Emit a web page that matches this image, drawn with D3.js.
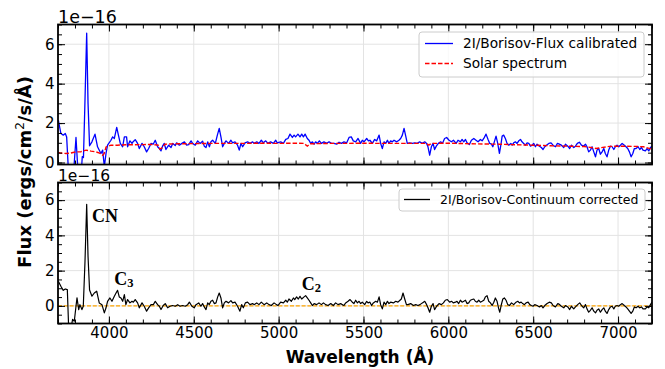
<!DOCTYPE html>
<html>
<head>
<meta charset="utf-8">
<script src="https://cdnjs.cloudflare.com/ajax/libs/d3/7.8.5/d3.min.js"></script>
<style>
  body { margin: 0; background: #fff; }
  text { font-family: "DejaVu Sans", sans-serif; }
</style>
</head>
<body>
<div id="chart"></div>
<script>
// flux calibrated spectrum (units of 1e-16)
var fluxWave = [3702,3717,3731,3743,3751,3762,3792,3806,3818,3838,3843,3850,3858,3869,3877,3886,3900,3918,3933,3953,3963,3973,3983,3992,
  4012,4022,4032,4046,4056,4067,4081,4091,4104,4110,4124,4136,4144,4155,4169,4179,4195,4208,4222,4234,4248,4261,4273,4287,4297,4307,4316,4326,4336,4352,4366,4376,4391,4399,
  4415,4430,4445,4458,4470,4484,4493,4509,4523,4537,4552,4562,4572,4582,4592,4601,4611,4627,4639,4650,4660,4670,4680,4690,4705,4719,4729,4743,4758,4768,4778,4788,4802,4817,4831,4847,
  4855,4871,4884,4898,4910,4924,4937,4953,4969,4983,4992,5012,5028,5042,5055,5067,5081,5091,5100,5114,5126,5136,5146,5156,5169,5179,5189,5199,5209,5218,5228,5240,5252,5267,5283,5297,
  5311,5326,5342,5356,5370,5385,5401,5415,5428,5440,5454,5468,5483,5493,5503,5519,5529,5538,5552,5566,5578,5592,5601,5611,5621,5631,5641,5650,5660,5670,5680,5696,5709,5719,5729,5739,
  5749,5758,5772,5788,5802,5817,5831,5847,5861,5872,5880,5890,5900,5910,5919,5929,5941,5955,5965,5978,5990,6004,6018,6030,
  6046,6057,6071,6081,6091,6101,6110,6124,6136,6150,6163,6175,6189,6199,6209,6222,6234,6244,6254,6262,6271,6281,6291,6301,6311,6317,6326,6336,6346,6356,6368,6376,6385,6395,6405,6415,
  6425,6434,6444,6454,6464,6474,6484,6493,6503,6513,6523,6537,6548,6558,6568,6578,6592,6605,6617,6631,6643,6654,6666,6680,6690,6704,6715,6725,6739,6749,6760,6772,6784,6796,6808,6817,
  6827,6837,6847,6857,6867,6876,6886,6896,6906,6916,6925,6935,6945,6955,6965,6975,6984,6994,7004,7014,7024,7037,7047,7057,7067,7077,7087,7096,7106,7118,7128,7138,7147,7161,7171,7181,7191,7200]
var fluxVals = [2.15,1.47,1.39,1.47,1.30,-0.5,-0.5,1.27,-0.5,-0.4,0.3,0.25,2.8,6.56,3.0,0.85,1.05,1.44,0.80,0.46,0.63,-0.2,0.46,0.88,
  1.13,1.30,1.22,1.78,1.39,0.97,0.80,1.30,1.30,0.80,1.10,0.97,1.07,1.16,0.97,0.71,0.97,0.80,0.54,0.71,0.97,0.93,1.13,0.80,0.71,0.59,0.83,0.97,0.66,0.88,0.76,0.97,0.86,1.00,
  0.88,0.97,1.05,0.88,0.91,1.10,0.97,0.88,1.10,0.97,1.08,0.83,0.76,1.05,0.80,1.05,1.13,0.97,1.39,1.73,1.30,0.80,0.97,1.10,0.97,1.13,1.00,1.05,0.88,0.63,0.97,0.80,1.00,1.05,0.97,1.05,
  0.97,1.05,0.97,1.13,1.00,1.10,0.97,1.05,0.97,1.13,1.00,1.05,0.97,1.17,1.22,1.44,1.27,1.39,1.30,1.44,1.30,1.44,1.30,1.44,1.22,1.13,0.97,1.05,0.93,1.05,0.97,1.10,0.97,1.05,0.97,1.05,
  0.97,0.97,0.93,1.03,0.97,1.05,1.00,1.27,1.30,1.10,1.05,1.22,0.97,1.13,1.05,1.22,1.10,1.13,0.97,1.17,1.10,1.39,0.97,0.71,1.05,0.97,1.13,0.97,1.10,1.05,1.13,1.05,1.13,1.22,1.39,1.73,
  1.34,0.97,1.00,0.97,1.00,0.97,1.05,0.97,1.05,0.97,0.80,0.37,0.80,0.97,0.66,0.83,0.97,1.05,0.97,1.22,1.27,1.13,1.05,1.13,
  0.97,1.13,1.05,1.17,1.05,1.17,1.00,0.91,1.13,1.22,1.13,1.05,1.17,1.10,1.22,1.44,1.17,0.97,0.93,0.80,1.05,1.34,0.97,0.46,0.97,1.34,1.39,1.22,0.97,0.88,0.97,0.88,1.00,1.05,0.97,1.10,
  1.17,1.05,0.97,0.88,1.00,0.97,0.83,0.88,0.97,0.80,0.93,0.83,0.76,0.66,0.80,0.88,0.97,1.00,0.88,0.80,0.97,0.93,0.88,0.76,0.93,0.83,0.71,0.88,0.76,0.83,0.97,1.03,0.88,0.83,0.93,0.80,
  0.54,0.63,0.80,0.54,0.29,0.63,0.71,0.42,0.54,0.71,0.46,0.29,0.63,0.83,0.80,0.66,0.80,0.88,0.80,0.88,0.97,0.88,0.80,0.71,0.54,0.29,0.46,0.71,0.71,0.80,0.66,0.76,0.63,0.59,0.71,0.59,0.76,0.83]

// solar spectrum (dashed)
var solarWave = [3700,3717,3747,3775,3806,3835,3865,3895,3924,3945,3963,3972,3983,4000,4012,4050,4100,4150,4200,4250,4290,4300,4315,4330,4400,4500,4600,
  4700,4800,4900,5000,5100,5150,5169,5185,5300,5400,5500,5600,5700,5800,5870,5885,5900,6000,6100,6200,6300,6400,6500,6600,6700,6800,6850,6870,6890,6950,7050,7150,7200]
var solarVals = [0.51,0.48,0.46,0.48,0.54,0.55,0.63,0.58,0.54,0.48,0.37,0.45,0.79,0.84,0.88,0.88,0.90,0.90,0.91,0.92,0.88,0.68,0.75,0.93,0.95,0.96,0.97,
  0.97,0.97,0.98,0.97,0.98,0.97,0.83,0.95,0.97,0.97,0.98,0.97,0.97,0.97,0.97,0.88,0.97,0.98,0.96,0.94,0.93,0.90,0.88,0.85,0.83,0.81,0.75,0.71,0.74,0.82,0.83,0.80,0.68]

// continuum corrected spectrum
var contWave = [3702,3717,3731,3743,3755,3763,3776,3786,3796,3806,3812,3822,3829,3841,3849,3859,3869,3877,3886,3900,3914,3928,3943,3959,3973,3983,3992,
  4006,4018,4032,4042,4051,4061,4071,4081,4091,4100,4110,4124,4136,4144,4155,4169,4179,4195,4208,4222,4234,4248,4262,4273,4287,4297,4307,4320,4332,4346,4360,4375,4391,4405,4419,4434,
  4450,4464,4474,4489,4503,4513,4529,4542,4552,4562,4572,4582,4591,4601,4611,4621,4631,4641,4650,4660,4670,4680,4690,4705,4719,4729,4743,4758,4772,4782,4792,4804,4817,4831,4847,
  4855,4871,4884,4898,4914,4930,4943,4957,4973,4987,4996,5012,5028,5042,5051,5061,5075,5087,5095,5106,5116,5126,5136,5150,5159,5169,5179,5189,5199,5209,5224,5238,5252,5264,5277,5291,
  5307,5322,5336,5350,5366,5375,5385,5395,5409,5421,5434,5444,5454,5464,5474,5483,5493,5507,5519,5527,5538,5548,5558,5572,5582,5592,5601,5611,5621,5631,5641,5650,5660,5676,5690,5703,
  5715,5723,5733,5743,5753,5762,5778,5794,5808,5821,5833,5847,5861,5872,5880,5890,5900,5910,5919,5931,5945,5959,5971,5982,5994,6008,6020,6029,
  6042,6051,6061,6071,6081,6091,6101,6110,6120,6130,6140,6150,6159,6169,6179,6189,6199,6209,6218,6228,6238,6248,6258,6268,6277,6287,6297,6303,6311,6321,6330,6340,6350,6360,6372,6385,
  6399,6409,6419,6429,6438,6448,6458,6470,6480,6489,6499,6509,6523,6537,6548,6558,6568,6582,6595,6607,6617,6631,6645,6656,6666,6680,6690,6704,6715,6725,6739,6749,6762,6774,6788,6798,
  6808,6817,6827,6837,6847,6857,6867,6876,6886,6896,6906,6916,6925,6935,6945,6955,6965,6975,6984,6994,7004,7014,7024,7037,7047,7057,7067,7077,7087,7096,7106,7118,7128,7138,7147,7161,
  7171,7181,7191,7200]
var contVals = [1.39,1.11,0.88,0.96,0.92,-1.3,-1.3,-0.77,-0.87,-0.02,0.45,-0.21,0.07,-0.21,-0.02,2.5,5.76,2.8,0.9,0.55,0.73,0.83,0.17,0.07,-0.40,-0.11,0.26,
  0.45,0.26,0.55,0.73,0.88,0.51,0.45,0.26,0.64,0.07,0.36,0.17,0.26,0.21,0.36,0.17,-0.11,0.17,-0.02,-0.30,-0.11,0.07,0.07,0.26,0.07,-0.02,-0.21,0.02,0.13,-0.11,-0.02,0.02,-0.02,0.07,-0.02,0.02,
  -0.02,0.07,0.21,-0.02,-0.11,0.07,0.17,-0.02,0.13,-0.06,-0.21,0.17,0.07,0.26,0.32,0.13,0.17,0.51,0.73,0.45,-0.11,0.17,0.26,0.17,0.30,0.17,0.21,-0.02,-0.30,0.07,-0.11,0.17,0.21,0.07,0.13,
  0.07,0.17,0.07,0.21,0.07,0.17,0.07,0.02,0.17,0.07,0.02,0.21,0.17,0.32,0.21,0.39,0.26,0.45,0.36,0.51,0.39,0.54,0.39,0.51,0.58,0.45,0.32,0.17,0.02,0.13,0.07,0.17,0.07,0.17,0.07,0.02,
  0.13,0.02,0.17,0.07,0.13,0.07,0.02,0.17,0.26,0.36,0.21,0.13,0.32,0.17,0.26,0.13,0.21,0.07,0.26,0.17,0.21,0.02,0.17,0.26,0.21,0.51,0.07,-0.17,0.21,0.07,0.26,0.13,0.21,0.17,0.26,0.21,
  0.32,0.39,0.73,0.39,0.07,0.07,0.13,0.02,0.07,0.02,0.07,0.17,0.26,0.07,-0.11,-0.36,-0.02,0.13,-0.21,-0.02,0.13,0.07,0.17,0.32,0.36,0.21,0.26,0.17,
  0.21,0.26,0.13,0.32,0.21,0.26,0.32,0.13,0.17,0.32,0.36,0.39,0.26,0.21,0.32,0.21,0.26,0.32,0.51,0.58,0.26,0.17,0.02,0.21,0.45,0.26,-0.17,-0.36,0.02,0.39,0.45,0.32,0.07,0.02,0.17,0.07,
  0.21,0.26,0.17,0.21,0.13,0.07,0.17,0.21,0.07,0.02,-0.02,0.07,0.02,-0.06,0.02,-0.11,0.02,0.13,0.21,0.17,0.02,-0.06,0.13,0.07,-0.02,-0.11,0.02,-0.06,-0.21,-0.02,-0.17,-0.06,0.07,0.17,-0.02,-0.11,
  0.07,-0.17,-0.36,-0.25,-0.11,-0.30,-0.40,-0.25,-0.17,-0.36,-0.21,-0.11,-0.30,-0.43,-0.21,-0.06,-0.02,-0.17,-0.02,0.02,-0.02,0.07,0.13,0.02,-0.06,-0.17,-0.30,-0.43,-0.30,-0.06,-0.11,-0.02,-0.11,-0.06,-0.17,-0.17,
  -0.06,-0.11,0.07,0.21]

var xTicks = [4000, 4500, 5000, 5500, 6000, 6500, 7000]
var yTicks = [0, 2, 4, 6]

// band labels in the lower panel
var annoText = ["CN", "C", "C"]
var annoSub = ["", "3", "2"]
var annoWave = [3900, 4032, 5136]
var annoFlux = [4.75, 1.16, 0.89]

var width = 665, height = 369
var left = 58, right = 652

var svg = d3.select('#chart').append('svg')
  .attr('width', width)
  .attr('height', height)

var xScale = d3.scaleLinear().domain([3700, 7200]).range([left, right])

var panels = [
  { top: 24.5, bottom: 164.5, domain: [-0.1, 7], offSize: 17.5, offY: 22.5, xlabels: false },
  { top: 182.5, bottom: 323.5, domain: [-1, 7], offSize: 15.5, offY: 181, xlabels: true }
]

function zip(xs, ys) {
  return xs.map(function(x, i) { return [x, ys[i]] })
}

function drawPanel(p, idx) {
  var yScale = d3.scaleLinear().domain(p.domain).range([p.bottom, p.top])
  var g = svg.append('g')
  var h = p.bottom - p.top

  g.append('clipPath').attr('id', 'clip' + idx)
    .append('rect').attr('x', left).attr('y', p.top).attr('width', right - left).attr('height', h)

  // grid
  g.selectAll('.gx').data(xTicks).enter().append('line')
    .attr('x1', function(d) { return xScale(d) }).attr('x2', function(d) { return xScale(d) })
    .attr('y1', p.top).attr('y2', p.bottom)
    .attr('stroke', '#e3e3e3').attr('stroke-width', 1)
  g.selectAll('.gy').data(yTicks).enter().append('line')
    .attr('y1', function(d) { return yScale(d) }).attr('y2', function(d) { return yScale(d) })
    .attr('x1', left).attr('x2', right)
    .attr('stroke', '#e3e3e3').attr('stroke-width', 1)

  p.yScale = yScale
  p.g = g
  p.clip = 'url(#clip' + idx + ')'
  return p
}

function drawAxes(p) {
  var yScale = p.yScale
  var minorX = d3.range(3700, 7201, 100)
  var minorY = d3.range(Math.ceil(p.domain[0] * 2) / 2, p.domain[1] + 0.01, 0.5)

  var bottomAx = d3.axisBottom(xScale).tickValues(xTicks).tickSizeInner(-7).tickSizeOuter(0).tickPadding(4)
    .tickFormat(p.xlabels ? d3.format('d') : function() { return '' })
  var bottomMinor = d3.axisBottom(xScale).tickValues(minorX).tickSizeInner(-4).tickSizeOuter(0).tickFormat('')
  var topAx = d3.axisTop(xScale).tickValues(xTicks).tickSizeInner(-7).tickSizeOuter(0).tickFormat('')
  var topMinor = d3.axisTop(xScale).tickValues(minorX).tickSizeInner(-4).tickSizeOuter(0).tickFormat('')
  var leftAx = d3.axisLeft(yScale).tickValues(yTicks).tickSizeInner(-7).tickSizeOuter(0).tickPadding(3.5).tickFormat(d3.format('d'))
  var leftMinor = d3.axisLeft(yScale).tickValues(minorY).tickSizeInner(-4).tickSizeOuter(0).tickFormat('')
  var rightAx = d3.axisRight(yScale).tickValues(yTicks).tickSizeInner(-7).tickSizeOuter(0).tickFormat('')
  var rightMinor = d3.axisRight(yScale).tickValues(minorY).tickSizeInner(-4).tickSizeOuter(0).tickFormat('')

  var axes = [
    [bottomAx, 'translate(0,' + p.bottom + ')'], [bottomMinor, 'translate(0,' + p.bottom + ')'],
    [topAx, 'translate(0,' + p.top + ')'], [topMinor, 'translate(0,' + p.top + ')'],
    [leftAx, 'translate(' + left + ',0)'], [leftMinor, 'translate(' + left + ',0)'],
    [rightAx, 'translate(' + right + ',0)'], [rightMinor, 'translate(' + right + ',0)']
  ]
  axes.forEach(function(a) {
    var ax = svg.append('g').attr('transform', a[1]).call(a[0])
    ax.select('.domain').remove()
    ax.selectAll('line').attr('stroke', '#000').attr('stroke-width', 1)
    ax.selectAll('text').attr('font-family', 'DejaVu Sans').attr('font-size', 15).attr('fill', '#000')
  })

  // frame
  svg.append('rect')
    .attr('x', left).attr('y', p.top).attr('width', right - left).attr('height', p.bottom - p.top)
    .attr('fill', 'none').attr('stroke', '#000').attr('stroke-width', 1.8)

  // offset text
  svg.append('text')
    .attr('x', left).attr('y', p.offY)
    .attr('font-size', p.offSize).attr('fill', '#000')
    .text('1e\u221216')
}

var topPanel = drawPanel(panels[0], 0)
var botPanel = drawPanel(panels[1], 1)

// top panel lines
var lineTop = d3.line().x(function(d) { return xScale(d[0]) }).y(function(d) { return topPanel.yScale(d[1]) })
topPanel.g.append('path')
  .datum(zip(fluxWave, fluxVals))
  .attr('clip-path', topPanel.clip)
  .attr('d', lineTop)
  .attr('fill', 'none').attr('stroke', '#0000ff').attr('stroke-width', 1.3).attr('stroke-linejoin', 'round')
topPanel.g.append('path')
  .datum(zip(solarWave, solarVals))
  .attr('clip-path', topPanel.clip)
  .attr('d', lineTop)
  .attr('fill', 'none').attr('stroke', '#ff0000').attr('stroke-width', 1.4).attr('stroke-dasharray', '4.5,2')

// bottom panel lines
var lineBot = d3.line().x(function(d) { return xScale(d[0]) }).y(function(d) { return botPanel.yScale(d[1]) })
botPanel.g.append('path')
  .datum([[3700, 0], [7200, 0]])
  .attr('clip-path', botPanel.clip)
  .attr('d', lineBot)
  .attr('fill', 'none').attr('stroke', '#ffa500').attr('stroke-width', 1.4).attr('stroke-dasharray', '4,1.8')
botPanel.g.append('path')
  .datum(zip(contWave, contVals))
  .attr('clip-path', botPanel.clip)
  .attr('d', lineBot)
  .attr('fill', 'none').attr('stroke', '#000').attr('stroke-width', 1.2).attr('stroke-linejoin', 'round')

// band labels
annoText.forEach(function(t, i) {
  var lbl = botPanel.g.append('text')
    .attr('x', xScale(annoWave[i])).attr('y', botPanel.yScale(annoFlux[i]))
    .style('font-family', '"Liberation Serif", "Times New Roman", serif')
    .attr('font-weight', 'bold').attr('font-size', 18).attr('fill', '#000')
  lbl.append('tspan').text(t)
  if (annoSub[i]) lbl.append('tspan').attr('font-size', 12.5).attr('dy', 2).text(annoSub[i])
})

drawAxes(topPanel)
drawAxes(botPanel)

// legends
function legend(x, y, w, h, rows, fontSize) {
  var lg = svg.append('g')
  lg.append('rect').attr('x', x).attr('y', y).attr('width', w).attr('height', h)
    .attr('rx', 3).attr('fill', '#fff').attr('fill-opacity', 0.8)
    .attr('stroke', '#cccccc').attr('stroke-width', 1)
  rows.forEach(function(r) {
    lg.append('line').attr('x1', r.x1).attr('x2', r.x2).attr('y1', r.y).attr('y2', r.y)
      .attr('stroke', r.color).attr('stroke-width', 1.3).attr('stroke-dasharray', r.dash || null)
    lg.append('text').attr('x', r.tx).attr('y', r.y).attr('dy', '0.35em')
      .attr('font-size', fontSize).attr('fill', '#000').text(r.label)
  })
}
legend(419, 32, 225, 45, [
  { x1: 425, x2: 453, y: 43.5, tx: 463, color: '#0000ff', label: '2I/Borisov-Flux calibrated' },
  { x1: 425, x2: 453, y: 63.5, tx: 463, color: '#ff0000', dash: '4.5,2', label: 'Solar spectrum' }
], 13.7)
legend(399, 189, 246, 22, [
  { x1: 404, x2: 430, y: 199.5, tx: 440, color: '#000', label: '2I/Borisov-Continuum corrected' }
], 12.5)

// axis labels
svg.append('text')
  .attr('transform', 'translate(31,172) rotate(-90)')
  .attr('text-anchor', 'middle')
  .attr('font-size', 18).attr('font-weight', 'bold').attr('fill', '#000')
  .html('Flux (ergs/cm<tspan font-size="12" font-weight="normal" dy="-7">2</tspan><tspan dy="7">/s/\u00c5)</tspan>')

svg.append('text')
  .attr('x', 360).attr('y', 363)
  .attr('text-anchor', 'middle')
  .attr('font-size', 17).attr('font-weight', 'bold').attr('fill', '#000')
  .text('Wavelength (\u00c5)')
</script>
</body>
</html>
